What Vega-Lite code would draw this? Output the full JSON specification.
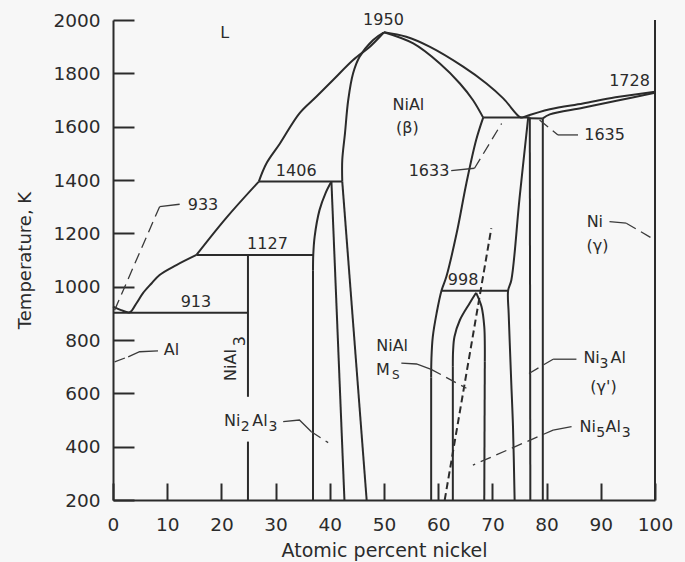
{
  "$schema": "https://vega.github.io/schema/vega-lite/v6.json",
  "width": 542,
  "height": 480,
  "autosize": {"type": "none"},
  "padding": {"left": 113, "top": 20, "right": 30, "bottom": 62},
  "background": "#f7f7f7",
  "config": {
    "view": {"stroke": null},
    "font": "DejaVu Sans",
    "axis": {"labelFont": "DejaVu Sans", "titleFont": "DejaVu Sans", "labelColor": "#2b2b2b", "titleColor": "#2b2b2b", "domainColor": "#2b2b2b", "tickColor": "#2b2b2b", "domainWidth": 2, "tickWidth": 2, "grid": false, "titleFontWeight": "normal", "labelFlush": false, "labelOverlap": false}
  },
  "datasets": {
    "lines": [
      {"id":"B1a","k":"c","o":0,"x":0,"T":925},{"id":"B1a","k":"c","o":1,"x":1.5,"T":912},{"id":"B1a","k":"c","o":2,"x":3.1,"T":904},{"id":"B1a","k":"c","o":3,"x":4.3,"T":937},{"id":"B1a","k":"c","o":4,"x":5.5,"T":975},{"id":"B1a","k":"c","o":5,"x":7.1,"T":1012},{"id":"B1a","k":"c","o":6,"x":8.6,"T":1044},{"id":"B1a","k":"c","o":7,"x":11.7,"T":1081},{"id":"B1a","k":"c","o":8,"x":15.4,"T":1119},
      {"id":"B1b","k":"c","o":0,"x":15.4,"T":1119},{"id":"B1b","k":"c","o":1,"x":20.9,"T":1258},{"id":"B1b","k":"c","o":2,"x":26.9,"T":1394},
      {"id":"B1c","k":"c","o":0,"x":26.9,"T":1394},{"id":"B1c","k":"c","o":1,"x":28.3,"T":1462},{"id":"B1c","k":"c","o":2,"x":30.8,"T":1537},{"id":"B1c","k":"c","o":3,"x":34.4,"T":1650},{"id":"B1c","k":"c","o":4,"x":37.5,"T":1712},{"id":"B1c","k":"c","o":5,"x":40.6,"T":1775},{"id":"B1c","k":"c","o":6,"x":44.3,"T":1850},{"id":"B1c","k":"c","o":7,"x":47.4,"T":1900},{"id":"B1c","k":"c","o":8,"x":50.0,"T":1954},
      {"id":"B2","k":"b","o":0,"x":15.4,"T":1119},{"id":"B2","k":"b","o":1,"x":36.9,"T":1119},
      {"id":"B3","k":"b","o":0,"x":26.9,"T":1394},{"id":"B3","k":"b","o":1,"x":42.3,"T":1394},
      {"id":"B4","k":"b","o":0,"x":0,"T":902},{"id":"B4","k":"b","o":1,"x":24.9,"T":902},
      {"id":"B5","k":"b","o":0,"x":24.9,"T":1119},{"id":"B5","k":"b","o":1,"x":24.9,"T":587},
      {"id":"B6","k":"b","o":0,"x":24.9,"T":419},{"id":"B6","k":"b","o":1,"x":24.9,"T":200},
      {"id":"B7","k":"c","o":0,"x":40.3,"T":1394},{"id":"B7","k":"c","o":1,"x":39.2,"T":1350},{"id":"B7","k":"c","o":2,"x":38.1,"T":1287},{"id":"B7","k":"c","o":3,"x":37.2,"T":1187},{"id":"B7","k":"c","o":4,"x":36.95,"T":1120},{"id":"B7","k":"c","o":5,"x":36.9,"T":1060},
      {"id":"B7s","k":"b","o":0,"x":36.9,"T":1060},{"id":"B7s","k":"b","o":1,"x":36.9,"T":200},
      {"id":"B8","k":"b","o":0,"x":40.3,"T":1394},{"id":"B8","k":"b","o":1,"x":42.7,"T":200},
      {"id":"B9","k":"b","o":0,"x":42.3,"T":1394},{"id":"B9","k":"b","o":1,"x":46.8,"T":200},
      {"id":"B10","k":"c","o":0,"x":42.3,"T":1394},{"id":"B10","k":"c","o":1,"x":42.3,"T":1475},{"id":"B10","k":"c","o":2,"x":42.8,"T":1575},{"id":"B10","k":"c","o":3,"x":43.4,"T":1700},{"id":"B10","k":"c","o":4,"x":44.3,"T":1800},{"id":"B10","k":"c","o":5,"x":45.5,"T":1862},{"id":"B10","k":"c","o":6,"x":48.0,"T":1925},{"id":"B10","k":"c","o":7,"x":50.0,"T":1954},
      {"id":"B11","k":"c","o":0,"x":50.0,"T":1954},{"id":"B11","k":"c","o":1,"x":54.1,"T":1937},{"id":"B11","k":"c","o":2,"x":58.4,"T":1900},{"id":"B11","k":"c","o":3,"x":64.6,"T":1825},{"id":"B11","k":"c","o":4,"x":68.9,"T":1762},{"id":"B11","k":"c","o":5,"x":72.0,"T":1706},{"id":"B11","k":"c","o":6,"x":75.0,"T":1637},{"id":"B11","k":"c","o":7,"x":75.6,"T":1634},
      {"id":"B12","k":"c","o":0,"x":50.0,"T":1954},{"id":"B12","k":"c","o":1,"x":55.4,"T":1912},{"id":"B12","k":"c","o":2,"x":60.3,"T":1837},{"id":"B12","k":"c","o":3,"x":64.0,"T":1762},{"id":"B12","k":"c","o":4,"x":66.4,"T":1700},{"id":"B12","k":"c","o":5,"x":68.3,"T":1634},
      {"id":"B13","k":"b","o":0,"x":68.3,"T":1634},{"id":"B13","k":"b","o":1,"x":76.9,"T":1634},
      {"id":"B14","k":"c","o":0,"x":68.3,"T":1634},{"id":"B14","k":"c","o":1,"x":67.0,"T":1550},{"id":"B14","k":"c","o":2,"x":65.2,"T":1388},{"id":"B14","k":"c","o":3,"x":63.4,"T":1200},{"id":"B14","k":"c","o":4,"x":61.5,"T":1037},{"id":"B14","k":"c","o":5,"x":60.6,"T":985},{"id":"B14","k":"c","o":6,"x":59.7,"T":900},{"id":"B14","k":"c","o":7,"x":59.0,"T":812},{"id":"B14","k":"c","o":8,"x":58.75,"T":730},{"id":"B14","k":"c","o":9,"x":58.7,"T":660},
      {"id":"B14s","k":"b","o":0,"x":58.7,"T":660},{"id":"B14s","k":"b","o":1,"x":58.7,"T":200},
      {"id":"B15","k":"b","o":0,"x":60.6,"T":985},{"id":"B15","k":"b","o":1,"x":72.9,"T":985},
      {"id":"B16Ls","k":"b","o":0,"x":62.7,"T":200},{"id":"B16Ls","k":"b","o":1,"x":62.7,"T":700},
      {"id":"B16L","k":"c","o":0,"x":62.7,"T":700},{"id":"B16L","k":"c","o":1,"x":62.75,"T":760},{"id":"B16L","k":"c","o":2,"x":63.0,"T":812},{"id":"B16L","k":"c","o":3,"x":64.0,"T":875},{"id":"B16L","k":"c","o":4,"x":65.8,"T":938},{"id":"B16L","k":"c","o":5,"x":67.0,"T":977},
      {"id":"B16R","k":"c","o":0,"x":67.0,"T":977},{"id":"B16R","k":"c","o":1,"x":68.0,"T":925},{"id":"B16R","k":"c","o":2,"x":68.5,"T":850},{"id":"B16R","k":"c","o":3,"x":68.6,"T":780},{"id":"B16R","k":"c","o":4,"x":68.6,"T":720},
      {"id":"B16Rs","k":"b","o":0,"x":68.6,"T":720},{"id":"B16Rs","k":"b","o":1,"x":68.5,"T":200},
      {"id":"B17","k":"c","o":0,"x":76.6,"T":1634},{"id":"B17","k":"c","o":1,"x":75.0,"T":1330},{"id":"B17","k":"c","o":2,"x":73.5,"T":1025},{"id":"B17","k":"c","o":3,"x":72.9,"T":985},{"id":"B17","k":"c","o":4,"x":73.0,"T":900},{"id":"B17","k":"c","o":5,"x":73.2,"T":790},{"id":"B17","k":"c","o":6,"x":73.5,"T":630},{"id":"B17","k":"c","o":7,"x":73.8,"T":475},{"id":"B17","k":"c","o":8,"x":74.1,"T":200},
      {"id":"B18","k":"b","o":0,"x":76.9,"T":1634},{"id":"B18","k":"b","o":1,"x":77.0,"T":200},
      {"id":"B19","k":"b","o":0,"x":79.3,"T":1631},{"id":"B19","k":"b","o":1,"x":79.3,"T":200},
      {"id":"B20","k":"b","o":0,"x":76.9,"T":1632},{"id":"B20","k":"b","o":1,"x":79.3,"T":1631},
      {"id":"B21","k":"c","o":0,"x":75.6,"T":1635},{"id":"B21","k":"c","o":1,"x":80.6,"T":1665},{"id":"B21","k":"c","o":2,"x":86.7,"T":1687},{"id":"B21","k":"c","o":3,"x":92.7,"T":1710},{"id":"B21","k":"c","o":4,"x":100,"T":1731},
      {"id":"B22","k":"c","o":0,"x":79.3,"T":1631},{"id":"B22","k":"c","o":1,"x":80.6,"T":1646},{"id":"B22","k":"c","o":2,"x":86.7,"T":1671},{"id":"B22","k":"c","o":3,"x":92.9,"T":1697},{"id":"B22","k":"c","o":4,"x":100,"T":1727},
      {"id":"B23","k":"b","o":0,"x":100,"T":200},{"id":"B23","k":"b","o":1,"x":100,"T":2000},
      {"id":"MS","k":"ms","o":0,"x":61.2,"T":200},{"id":"MS","k":"ms","o":1,"x":69.8,"T":1219},
      {"id":"L1d","k":"ld","o":0,"x":0.3,"T":912},{"id":"L1d","k":"ld","o":1,"x":8.6,"T":1300},
      {"id":"L1s","k":"ls","o":0,"x":8.6,"T":1300},{"id":"L1s","k":"ls","o":1,"x":12.3,"T":1309},
      {"id":"L2d","k":"ld","o":0,"x":0.3,"T":718},{"id":"L2d","k":"ld","o":1,"x":2.8,"T":737},
      {"id":"L2s","k":"ls","o":0,"x":2.8,"T":737},{"id":"L2s","k":"ls","o":1,"x":4.9,"T":756},{"id":"L2s","k":"ls","o":2,"x":8.3,"T":759},
      {"id":"L3s","k":"ls","o":0,"x":31.4,"T":494},{"id":"L3s","k":"ls","o":1,"x":34.4,"T":500},{"id":"L3s","k":"ls","o":2,"x":36.6,"T":456},
      {"id":"L3d","k":"ld","o":0,"x":36.6,"T":456},{"id":"L3d","k":"ld","o":1,"x":39.7,"T":415},
      {"id":"L4s","k":"ls","o":0,"x":62.4,"T":1435},{"id":"L4s","k":"ls","o":1,"x":66.7,"T":1444},
      {"id":"L4d","k":"ld","o":0,"x":66.7,"T":1444},{"id":"L4d","k":"ld","o":1,"x":71.7,"T":1612},
      {"id":"L5d","k":"ld","o":0,"x":78.7,"T":1625},{"id":"L5d","k":"ld","o":1,"x":82.1,"T":1569},
      {"id":"L5s","k":"ls","o":0,"x":82.1,"T":1569},{"id":"L5s","k":"ls","o":1,"x":85.8,"T":1569},
      {"id":"L6s","k":"ls","o":0,"x":91.6,"T":1244},{"id":"L6s","k":"ls","o":1,"x":94.7,"T":1238},
      {"id":"L6d","k":"ld","o":0,"x":94.7,"T":1238},{"id":"L6d","k":"ld","o":1,"x":100,"T":1175},
      {"id":"L7s","k":"ls","o":0,"x":53.2,"T":713},{"id":"L7s","k":"ls","o":1,"x":56.0,"T":710},{"id":"L7s","k":"ls","o":2,"x":58.7,"T":690},
      {"id":"L7d","k":"ld","o":0,"x":58.7,"T":690},{"id":"L7d","k":"ld","o":1,"x":65.2,"T":619},
      {"id":"L8s","k":"ls","o":0,"x":85.5,"T":728},{"id":"L8s","k":"ls","o":1,"x":81.2,"T":728},
      {"id":"L8d","k":"ld","o":0,"x":81.2,"T":728},{"id":"L8d","k":"ld","o":1,"x":76.3,"T":669},
      {"id":"L9s","k":"ls","o":0,"x":84.6,"T":475},{"id":"L9s","k":"ls","o":1,"x":81.2,"T":462},
      {"id":"L9d","k":"ld","o":0,"x":81.2,"T":462},{"id":"L9d","k":"ld","o":1,"x":66.4,"T":331}
    ],
    "labels": [
      {"t":"L","k":"n","x":20.6,"T":1950},
      {"t":"1950","k":"n","x":49.9,"T":2000},
      {"t":"933","k":"n","x":16.6,"T":1306},
      {"t":"1406","k":"n","x":33.8,"T":1435},
      {"t":"1127","k":"n","x":28.5,"T":1161},
      {"t":"913","k":"n","x":15.3,"T":942},
      {"t":"Al","k":"n","x":10.8,"T":762},
      {"t":"NiAl","k":"r","x":21.7,"T":706},
      {"t":"3","k":"r","x":23.4,"T":796},
      {"t":"Ni","k":"n","x":22.0,"T":496},
      {"t":"2","k":"sub","x":24.4,"T":474},
      {"t":"Al","k":"n","x":27.1,"T":496},
      {"t":"3","k":"sub","x":29.5,"T":474},
      {"t":"NiAl","k":"n","x":54.5,"T":1681},
      {"t":"(β)","k":"n","x":54.3,"T":1596},
      {"t":"1633","k":"n","x":58.3,"T":1435},
      {"t":"1728","k":"n","x":95.3,"T":1772},
      {"t":"1635","k":"n","x":90.7,"T":1569},
      {"t":"Ni","k":"n","x":88.9,"T":1244},
      {"t":"(γ)","k":"n","x":89.4,"T":1154},
      {"t":"998","k":"n","x":64.6,"T":1025},
      {"t":"NiAl","k":"n","x":51.5,"T":777},
      {"t":"M","k":"n","x":49.8,"T":687},
      {"t":"S","k":"s","x":52.2,"T":669},
      {"t":"Ni","k":"n","x":88.3,"T":731},
      {"t":"3","k":"sub","x":90.6,"T":710},
      {"t":"Al","k":"n","x":93.2,"T":731},
      {"t":"(γ')","k":"n","x":90.5,"T":625},
      {"t":"Ni","k":"n","x":87.6,"T":475},
      {"t":"5","k":"sub","x":90.0,"T":453},
      {"t":"Al","k":"n","x":92.3,"T":475},
      {"t":"3","k":"sub","x":94.7,"T":453}
    ]
  },
  "encoding": {
    "x": {"field": "x", "type": "quantitative", "scale": {"domain": [0, 100], "nice": false, "zero": false}},
    "y": {"field": "T", "type": "quantitative", "scale": {"domain": [200, 2000], "nice": false, "zero": false}}
  },
  "layer": [
    {
      "data": {"name": "lines"},
      "transform": [{"filter": "datum.k === 'b'"}],
      "mark": {"type": "line", "color": "#2b2b2b", "strokeWidth": 2, "strokeJoin": "round"},
      "encoding": {
        "x": {"field": "x", "type": "quantitative", "axis": {"values": [0,10,20,30,40,50,60,70,80,90,100], "format": "d", "tickSize": -17, "labelPadding": 32, "labelFontSize": 18.5, "title": "Atomic percent nickel", "titleFontSize": 19, "titlePadding": 8}},
        "y": {"field": "T", "type": "quantitative", "axis": {"values": [200,400,600,800,1000,1200,1400,1600,1800,2000], "format": "d", "tickSize": -21, "labelPadding": 34, "labelFontSize": 18.5, "title": "Temperature, K", "titleFontSize": 18, "titlePadding": 18}},
        "detail": {"field": "id"},
        "order": {"field": "o"}
      }
    },
    {
      "data": {"name": "lines"},
      "transform": [{"filter": "datum.k === 'c'"}],
      "mark": {"type": "line", "color": "#2b2b2b", "strokeWidth": 2, "interpolate": "catmull-rom"},
      "encoding": {"detail": {"field": "id"}, "order": {"field": "o"}}
    },
    {
      "data": {"name": "lines"},
      "transform": [{"filter": "datum.k === 'ms'"}],
      "mark": {"type": "line", "color": "#2b2b2b", "strokeWidth": 2, "strokeDash": [7, 4]},
      "encoding": {"detail": {"field": "id"}, "order": {"field": "o"}}
    },
    {
      "data": {"name": "lines"},
      "transform": [{"filter": "datum.k === 'ld'"}],
      "mark": {"type": "line", "color": "#3a3a3a", "strokeWidth": 1.3, "strokeDash": [11, 6]},
      "encoding": {"detail": {"field": "id"}, "order": {"field": "o"}}
    },
    {
      "data": {"name": "lines"},
      "transform": [{"filter": "datum.k === 'ls'"}],
      "mark": {"type": "line", "color": "#3a3a3a", "strokeWidth": 1.3},
      "encoding": {"detail": {"field": "id"}, "order": {"field": "o"}}
    },
    {
      "data": {"name": "labels"},
      "transform": [{"filter": "datum.k === 'n'"}],
      "mark": {"type": "text", "font": "DejaVu Sans", "fontSize": 16, "color": "#2b2b2b", "align": "center", "baseline": "middle"},
      "encoding": {"text": {"field": "t"}}
    },
    {
      "data": {"name": "labels"},
      "transform": [{"filter": "datum.k === 'sub'"}],
      "mark": {"type": "text", "font": "DejaVu Sans", "fontSize": 14, "color": "#2b2b2b", "align": "center", "baseline": "middle"},
      "encoding": {"text": {"field": "t"}}
    },
    {
      "data": {"name": "labels"},
      "transform": [{"filter": "datum.k === 's'"}],
      "mark": {"type": "text", "font": "DejaVu Sans", "fontSize": 12, "color": "#2b2b2b", "align": "center", "baseline": "middle"},
      "encoding": {"text": {"field": "t"}}
    },
    {
      "data": {"name": "labels"},
      "transform": [{"filter": "datum.k === 'r'"}],
      "mark": {"type": "text", "font": "DejaVu Sans", "fontSize": 16, "color": "#2b2b2b", "align": "center", "baseline": "middle", "angle": 270},
      "encoding": {"text": {"field": "t"}}
    }
  ]
}
